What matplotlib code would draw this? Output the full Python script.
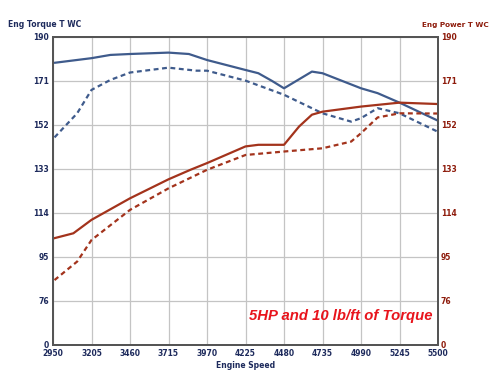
import matplotlib
matplotlib.use("Agg")
import matplotlib.pyplot as plt

# engine speed (rpm) samples
rpm_torque_mod = [2960, 3205, 3330, 3460, 3715, 3850, 3970, 4225, 4310, 4400, 4480, 4665, 4735, 4990, 5100, 5245, 5500]
torque_mod = [178.8, 180.8, 182.2, 182.6, 183.2, 182.6, 180.0, 175.7, 174.3, 171.0, 167.8, 175.0, 174.3, 167.8, 165.7, 161.6, 153.8]

rpm_torque_base = [2960, 3110, 3205, 3330, 3460, 3715, 3900, 3970, 4225, 4480, 4735, 4925, 4990, 5100, 5245, 5500]
torque_base = [146.6, 157.0, 167.1, 171.4, 174.6, 176.7, 175.4, 175.4, 171.1, 165.0, 157.0, 153.4, 154.9, 159.2, 157.0, 149.0]

rpm_power_mod = [2960, 3085, 3205, 3460, 3715, 3860, 3970, 4225, 4310, 4480, 4580, 4665, 4735, 4990, 5245, 5500]
power_mod = [103.1, 105.2, 111.0, 120.3, 128.5, 132.6, 135.5, 142.7, 143.4, 143.4, 151.3, 156.4, 157.7, 159.9, 161.6, 161.0]

rpm_power_base = [2960, 3110, 3205, 3460, 3715, 3970, 4225, 4480, 4735, 4925, 4990, 5100, 5245, 5500]
power_base = [85.0, 93.0, 102.3, 115.3, 124.6, 132.6, 139.0, 140.5, 141.9, 144.8, 148.4, 155.2, 157.0, 156.9]

x_ticks = [2950, 3205, 3460, 3715, 3970, 4225, 4480, 4735, 4990, 5245, 5500]
y_ticks = [57, 76, 95, 114, 133, 152, 171, 190]
y_labels = ["0", "76", "95", "114", "133", "152", "171", "190"]

blue = "#3f5b8c"
red = "#a3331c"
navy = "#1d2a5c"
dred = "#8e1c0c"

fig = plt.figure(figsize=(5, 3.88), dpi=100)
ax = fig.add_axes([0.106, 0.111, 0.77, 0.794])
ax2 = ax.twinx()

ax.plot(rpm_torque_mod, torque_mod, color=blue, lw=1.6, solid_capstyle="round")
ax.plot(rpm_torque_base, torque_base, color=blue, lw=1.6, ls=(0, (2.2, 1.6)))
ax2.plot(rpm_power_mod, power_mod, color=red, lw=1.6)
ax2.plot(rpm_power_base, power_base, color=red, lw=1.6, ls=(0, (2.2, 1.6)))

for a in (ax, ax2):
    a.set_xlim(2950, 5500)
    a.set_ylim(57, 190)
    a.set_yticks(y_ticks)
    a.set_yticklabels(y_labels)
    for s in a.spines.values():
        s.set_color("#555555")
        s.set_linewidth(1.4)

ax.set_xticks(x_ticks)
ax.grid(True, color="#c4c4c4", lw=0.9)
ax.tick_params(length=0, labelsize=5.5, labelcolor=navy, pad=3)
ax2.tick_params(length=0, labelsize=5.5, labelcolor=dred, pad=2)
for lab in ax.get_xticklabels() + ax.get_yticklabels():
    lab.set_fontweight("bold")
for lab in ax2.get_yticklabels():
    lab.set_fontweight("bold")
ax.set_xlabel("Engine Speed", fontsize=5.5, fontweight="bold", color=navy, labelpad=2)

fig.text(0.015, 0.93, "Eng Torque T WC", fontsize=5.5, fontweight="bold", color=navy)
fig.text(0.845, 0.93, "Eng Power T WC", fontsize=5.2, fontweight="bold", color=dred)

ax.text(0.985, 0.095, "5HP and 10 lb/ft of Torque", transform=ax.transAxes,
        ha="right", va="center", fontsize=10.7, fontweight="bold", style="italic",
        color="#e8141c", family="Liberation Sans")

fig.savefig("out.png", dpi=100)
